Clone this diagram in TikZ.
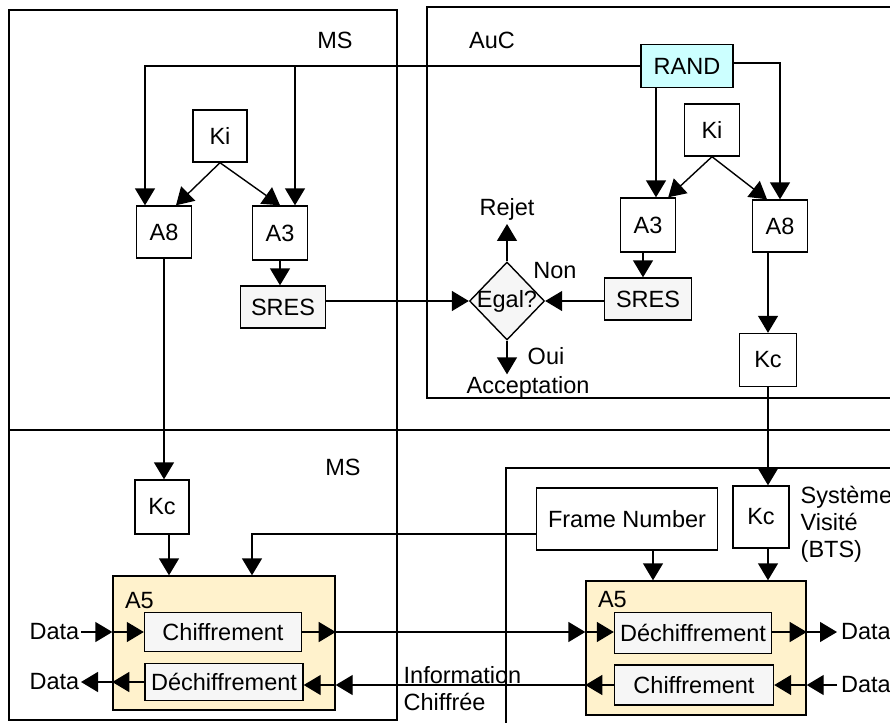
\documentclass[tikz,border=0pt]{standalone}
\usepackage{fontspec}
\setmainfont{Liberation Sans}
\usetikzlibrary{arrows.meta,shapes.geometric}
\definecolor{randcol}{RGB}{204,255,255}
\definecolor{a5col}{RGB}{255,242,204}
\definecolor{boxgray}{RGB}{246,246,246}

\begin{document}
\begin{tikzpicture}[x=1pt, y=-1pt, line width=1.4pt, >={Triangle[length=17pt,width=20pt]},
  font=\fontsize{23.5}{27}\selectfont,
  box/.style={draw, inner sep=0},
  a5lbl/.style={anchor=north west, inner sep=0, xshift=12pt, yshift=#1}]
\useasboundingbox (0,0) rectangle (890,722);
\draw (9,10) rectangle (397,720);
\draw (9,430) -- (900,430);
\draw (900,7) -| (427,398) -- (900,398);
\draw (900,468) -| (506,730);

\node (msA) at (335,40) {MS};
\node (auc) at (492,40) {AuC};
\node (msB) at (343,467) {MS};

\node[box, minimum width=54, minimum height=52] (kiMS) at (220,136) {Ki};
\node[box, minimum width=55, minimum height=52] (a8MS) at (164,232) {A8};
\node[box, minimum width=55, minimum height=54] (a3MS) at (280,233) {A3};
\node[box, fill=boxgray, minimum width=85, minimum height=42] (sresMS) at (283,307) {SRES};

\node[box, fill=randcol, minimum width=92, minimum height=43] (rand) at (687,66) {RAND};
\node[box, minimum width=55, minimum height=52] (kiAuC) at (712,130) {Ki};
\node[box, minimum width=55, minimum height=54] (a3AuC) at (648,225) {A3};
\node[box, minimum width=55, minimum height=52] (a8AuC) at (780,226) {A8};
\node[box, fill=boxgray, minimum width=87, minimum height=42] (sresAuC) at (648,299) {SRES};
\node[box, minimum width=57, minimum height=53] (kcAuC) at (768,360) {Kc};
\node[diamond, draw, fill=boxgray, inner sep=0, minimum width=75, minimum height=78] (egal) at (507,301) {\makebox[46pt]{Egal?}};
\node (rejet) at (507,209) {Rejet};
\node[inner sep=1pt] (acc) at (528,387) {Acceptation};
\node (non) at (555,271) {Non};
\node (oui) at (546,356) {Oui};

\draw[->] (rand.west) -| ([xshift=-19pt]a8MS.north);
\draw[->] ([xshift=15pt]a3MS.north |- rand.west) -- ([xshift=15pt]a3MS.north);
\draw[->] (kiMS.south) -- ([xshift=12pt]a8MS.north);
\draw[->] (kiMS.south) -- (a3MS.north);
\draw[->] (a3MS.south) -- (a3MS.south |- sresMS.north);
\draw[->] (sresMS.east |- egal.west) -- (egal.west);

\draw[->] ([xshift=8pt]a3AuC.north |- rand.south) -- ([xshift=8pt]a3AuC.north);
\draw[->] ([yshift=3pt]rand.east) -| (a8AuC.north);
\draw[->] (kiAuC.south) -- ([xshift=-8pt]a3AuC.north east);
\draw[->] (kiAuC.south) -- ([xshift=-13pt]a8AuC.north);
\draw[->] ([xshift=-5pt]a3AuC.south) -- ([xshift=-5pt]a3AuC.south |- sresAuC.north);
\draw[->] (sresAuC.west |- egal.east) -- (egal.east);
\draw[->] (kcAuC.north |- a8AuC.south) -- (kcAuC.north);
\draw[->] (egal.north) -- (rejet.south);
\draw[->] (egal.south) -- (egal.south |- acc.north);

\node[box, minimum width=54, minimum height=54] (kcMS) at (162,507) {Kc};
\node[draw, fill=a5col, minimum width=222, minimum height=134, label={[a5lbl=-16pt]north west:A5}] (a5MS) at (224,643) {};
\node[box, fill=boxgray, minimum width=157, minimum height=39] (chMS) at (223,632) {Chiffrement};
\node[box, fill=boxgray, minimum width=158, minimum height=37] (dechMS) at (224,682) {Déchiffrement};
\node[anchor=east, inner sep=1pt] (dataL1) at (81,632) {Data};
\node[anchor=east, inner sep=1pt] (dataL2) at (81,682) {Data};
\node[anchor=north west, inner sep=0, align=left] (info) at (403,666) {Information\\Chiffrée};

\node[box, minimum width=181, minimum height=62] (fn) at (627,519) {Frame Number};
\node[box, minimum width=56, minimum height=62] (kcBTS) at (761,517) {Kc};
\node[anchor=north west, inner sep=0, align=left] (sv) at (800,485) {Système\\Visité\\(BTS)};
\node[draw, fill=a5col, minimum width=220, minimum height=134, label={[a5lbl=-10pt]north west:A5}] (a5BTS) at (696,648) {};
\node[box, fill=boxgray, minimum width=157, minimum height=41] (dechBTS) at (693,633) {Déchiffrement};
\node[box, fill=boxgray, minimum width=159, minimum height=40] (chBTS) at (694,685) {Chiffrement};
\node[anchor=west] (dataR1) at (837,632) {Data};
\node[anchor=west] (dataR2) at (837,685) {Data};

\draw[->] (a8MS.south) -- (a8MS.south |- kcMS.north);
\draw[->] ([xshift=7pt]kcMS.south) -- ([xshift=7pt]kcMS.south |- a5MS.north);
\draw[->] ([yshift=-15pt]fn.west) -| ([xshift=28pt]a5MS.north);
\draw[->] (kcAuC.south) -- (kcAuC.south |- kcBTS.north);
\draw[->] ([xshift=26pt]fn.south) -- ([xshift=26pt]fn.south |- a5BTS.north);
\draw[->] ([xshift=7pt]kcBTS.south) -- ([xshift=7pt]kcBTS.south |- a5BTS.north);

\draw[->] (dataL1.east) -- (a5MS.west |- chMS.west);
\draw[->] (a5MS.west |- chMS.west) -- (chMS.west);
\draw[->] (chMS.east) -- (a5MS.east |- chMS.east);
\draw[->] (a5MS.east |- chMS.east) -- (a5BTS.west |- chMS.east);
\draw[->] (a5BTS.west |- chMS.east) -- (dechBTS.west |- chMS.east);
\draw[->] (dechBTS.east |- chMS.east) -- (a5BTS.east |- chMS.east);
\draw[->] (a5BTS.east |- chMS.east) -- (dataR1.west);

\draw[->] (dataR2.west) -- (a5BTS.east |- chBTS.east);
\draw[->] (a5BTS.east |- chBTS.east) -- (chBTS.east);
\draw[->] (chBTS.west) -- (a5BTS.west |- chBTS.west);
\draw[->] (a5BTS.west |- chBTS.west) -- (a5MS.east |- chBTS.west);
\draw[->] (a5MS.east |- chBTS.west) -- (dechMS.east |- chBTS.west);
\draw[->] (dechMS.west) -- (a5MS.west |- dechMS.west);
\draw[->] (a5MS.west |- dechMS.west) -- (dataL2.east);
\end{tikzpicture}
\end{document}
